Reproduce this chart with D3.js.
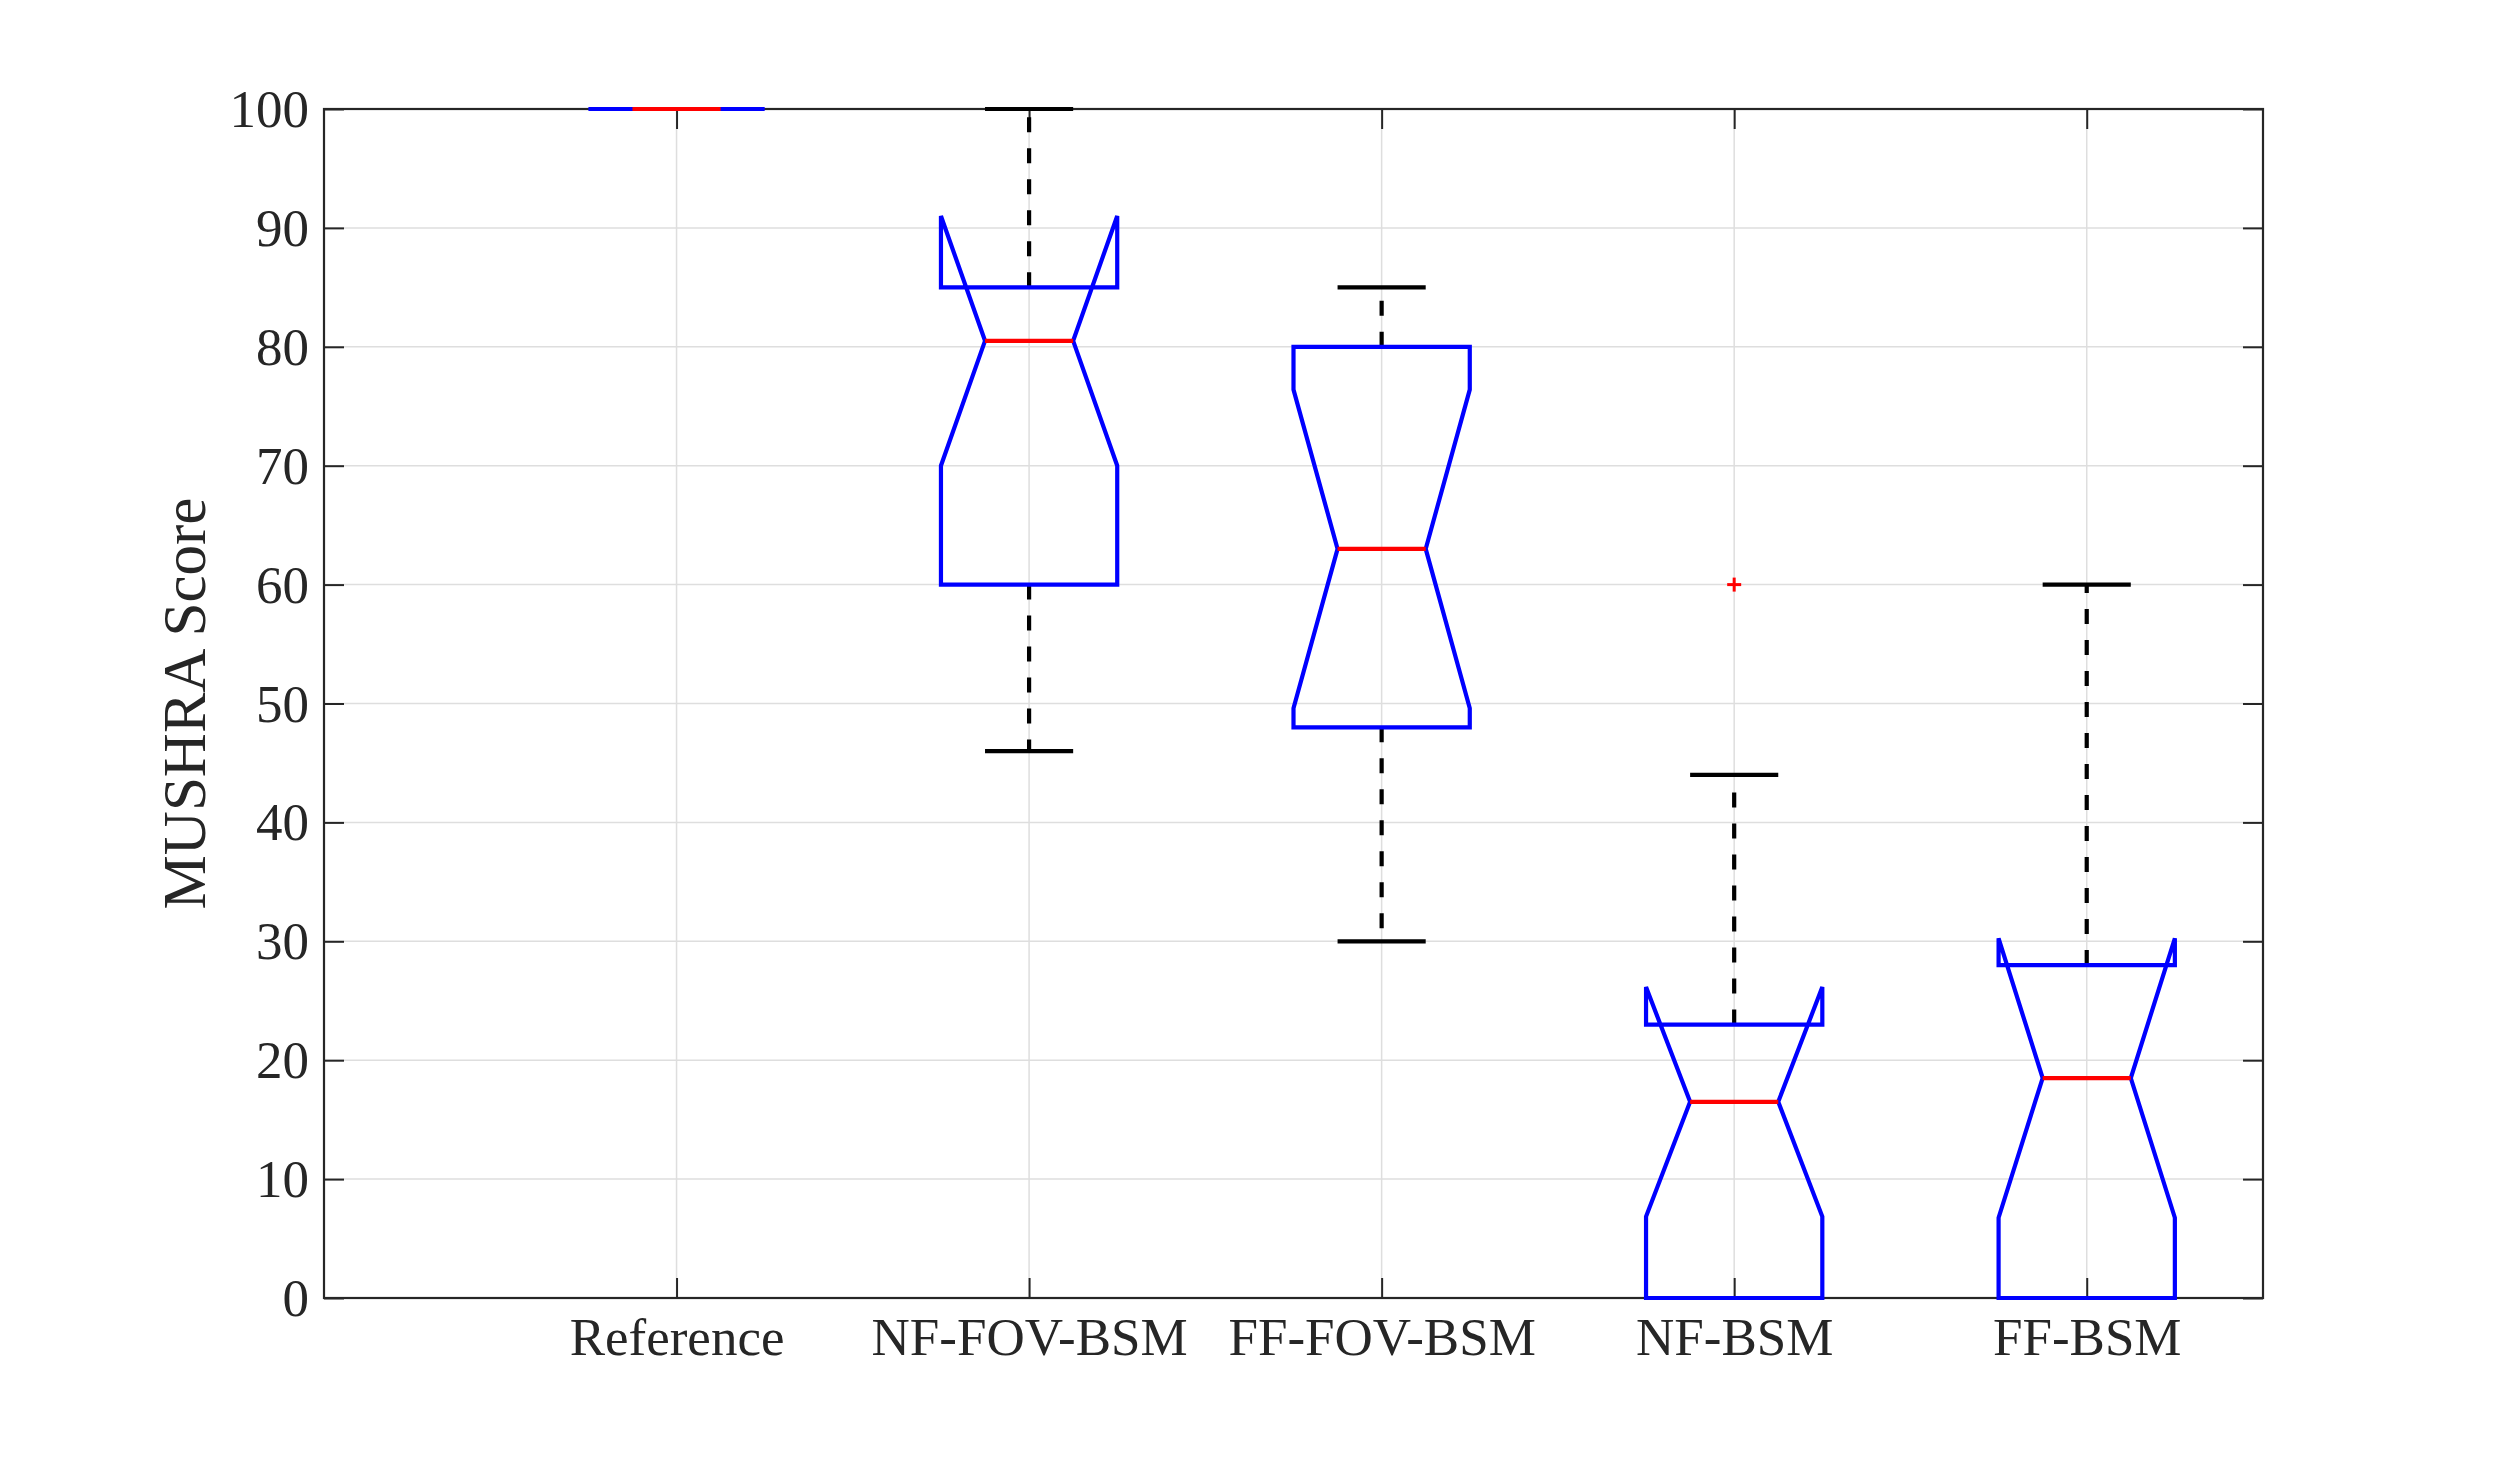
<!DOCTYPE html>
<html>
<head>
<meta charset="utf-8">
<script src="https://cdn.jsdelivr.net/npm/d3@7"></script>
<style>
  html, body { margin: 0; padding: 0; background: #ffffff; }
  svg { display: block; }
  text { font-family: "Liberation Serif", "DejaVu Serif", serif; fill: #262626; }
</style>
</head>
<body>
<svg id="chart" width="2500" height="1458"></svg>
<script>
// ---- Data ----
const categories   = ["Reference", "NF-FOV-BSM", "FF-FOV-BSM", "NF-BSM", "FF-BSM"];
const q1Values     = [100, 60, 48, 0, 0];
const medianValues = [100, 80.5, 63, 16.5, 18.5];
const q3Values     = [100, 85, 80, 23, 28];
const notchLow     = [100, 70, 49.6, 6.85, 6.75];
const notchHigh    = [100, 91, 76.4, 26.15, 30.25];
const whiskerLow   = [100, 46, 30, 0, 0];
const whiskerHigh  = [100, 100, 85, 44, 60];
const outliers     = [[], [], [], [60], []];
const yTicks       = [0, 10, 20, 30, 40, 50, 60, 70, 80, 90, 100];
const yLabel       = "MUSHRA Score";

(function () {
// ---- Layout ----
const svg = d3.select("#chart");
const pL = 324, pR = 2263, pT = 109, pB = 1298;
const x = d3.scaleLinear().domain([0, 5.5]).range([pL, pR]);
const y = d3.scaleLinear().domain([0, 100]).range([pB, pT]);
const boxHalf = 0.25, notchHalf = 0.125, capHalf = 0.125;
const axisColor = "#262626", gridColor = "#dedede";
const tickLen = 20;
const catPos = categories.map((c, i) => i + 1);

// grid
const grid = svg.append("g");
grid.selectAll("line.hg").data(yTicks.filter(t => t > 0 && t < 100)).enter().append("line")
  .attr("x1", pL).attr("x2", pR).attr("y1", d => y(d)).attr("y2", d => y(d))
  .attr("stroke", gridColor).attr("stroke-width", 1.5);
grid.selectAll("line.vg").data(catPos).enter().append("line")
  .attr("x1", d => x(d)).attr("x2", d => x(d)).attr("y1", pT).attr("y2", pB)
  .attr("stroke", gridColor).attr("stroke-width", 1.5);

// axes (d3 axes, ticks inward)
const yAxisL = d3.axisLeft(y).tickValues(yTicks).tickSizeInner(-tickLen).tickSizeOuter(0).tickPadding(15);
const yAxisR = d3.axisRight(y).tickValues(yTicks).tickSizeInner(-tickLen).tickSizeOuter(0).tickFormat("");
const xAxisB = d3.axisBottom(x).tickValues(catPos).tickSizeInner(-tickLen).tickSizeOuter(0)
  .tickFormat((d, i) => categories[i]).tickPadding(0);
const xAxisT = d3.axisTop(x).tickValues(catPos).tickSizeInner(-tickLen).tickSizeOuter(0).tickFormat("");

function styleAxis(g) {
  g.select(".domain").remove();
  g.selectAll(".tick line").attr("stroke", axisColor).attr("stroke-width", 2);
  g.selectAll(".tick text").attr("fill", axisColor).style("font-size", "53px")
    .style("font-family", '"Liberation Serif", "DejaVu Serif", serif');
}
const gL = svg.append("g").attr("transform", `translate(${pL},0)`).call(yAxisL).call(styleAxis);
gL.selectAll(".tick text").attr("dy", "0.33em");
svg.append("g").attr("transform", `translate(${pR},0)`).call(yAxisR).call(styleAxis);
const gB = svg.append("g").attr("transform", `translate(0,${pB})`).call(xAxisB).call(styleAxis);
gB.selectAll(".tick text").attr("dy", null).attr("y", 57);
svg.append("g").attr("transform", `translate(0,${pT})`).call(xAxisT).call(styleAxis);

// frame
svg.append("rect").attr("x", pL).attr("y", pT).attr("width", pR - pL).attr("height", pB - pT)
  .attr("fill", "none").attr("stroke", axisColor).attr("stroke-width", 2.2);

// y label
svg.append("text")
  .attr("transform", `translate(205,${(pT + pB) / 2}) rotate(-90)`)
  .attr("text-anchor", "middle")
  .style("font-size", "61px")
  .text(yLabel);

// ---- boxes ----
const data = categories.map((c, i) => ({
  pos: catPos[i], q1: q1Values[i], med: medianValues[i], q3: q3Values[i],
  nlo: notchLow[i], nhi: notchHigh[i], wlo: whiskerLow[i], whi: whiskerHigh[i], out: outliers[i]
}));

const marks = svg.append("g");
const lw = 4.2;

// whiskers (dashed)
marks.selectAll("line.wu").data(data).enter().append("line")
  .attr("x1", d => x(d.pos)).attr("x2", d => x(d.pos))
  .attr("y1", d => y(d.q3)).attr("y2", d => y(d.whi))
  .attr("stroke", "#000").attr("stroke-width", lw).attr("stroke-dasharray", "15,16");
marks.selectAll("line.wl").data(data).enter().append("line")
  .attr("x1", d => x(d.pos)).attr("x2", d => x(d.pos))
  .attr("y1", d => y(d.q1)).attr("y2", d => y(d.wlo))
  .attr("stroke", "#000").attr("stroke-width", lw).attr("stroke-dasharray", "15,16");
// caps
marks.selectAll("line.cu").data(data).enter().append("line")
  .attr("x1", d => x(d.pos - capHalf)).attr("x2", d => x(d.pos + capHalf))
  .attr("y1", d => y(d.whi)).attr("y2", d => y(d.whi))
  .attr("stroke", "#000").attr("stroke-width", lw);
marks.selectAll("line.cl").data(data).enter().append("line")
  .attr("x1", d => x(d.pos - capHalf)).attr("x2", d => x(d.pos + capHalf))
  .attr("y1", d => y(d.wlo)).attr("y2", d => y(d.wlo))
  .attr("stroke", "#000").attr("stroke-width", lw);

// notched box outline
function boxPath(d) {
  const L = x(d.pos - boxHalf), R = x(d.pos + boxHalf);
  const Lm = x(d.pos - notchHalf), Rm = x(d.pos + notchHalf);
  const pts = [
    [L, y(d.q1)], [L, y(d.nlo)], [Lm, y(d.med)], [L, y(d.nhi)], [L, y(d.q3)],
    [R, y(d.q3)], [R, y(d.nhi)], [Rm, y(d.med)], [R, y(d.nlo)], [R, y(d.q1)]
  ];
  return d3.line()(pts) + "Z";
}
marks.selectAll("path.box").data(data).enter().append("path")
  .attr("d", boxPath).attr("fill", "none").attr("stroke", "#0000ff")
  .attr("stroke-width", lw).attr("stroke-linejoin", "miter");

// medians
marks.selectAll("line.med").data(data).enter().append("line")
  .attr("x1", d => x(d.pos - notchHalf)).attr("x2", d => x(d.pos + notchHalf))
  .attr("y1", d => y(d.med)).attr("y2", d => y(d.med))
  .attr("stroke", "#ff0000").attr("stroke-width", lw);

// outliers (+)
const outPts = data.flatMap(d => d.out.map(v => ({ pos: d.pos, v })));
const plus = marks.selectAll("g.out").data(outPts).enter().append("g")
  .attr("transform", d => `translate(${x(d.pos)},${y(d.v)})`);
plus.append("line").attr("x1", -7).attr("x2", 7).attr("y1", 0).attr("y2", 0)
  .attr("stroke", "#ff0000").attr("stroke-width", 3);
plus.append("line").attr("x1", 0).attr("x2", 0).attr("y1", -7).attr("y2", 7)
  .attr("stroke", "#ff0000").attr("stroke-width", 3);
})();
</script>
</body>
</html>
